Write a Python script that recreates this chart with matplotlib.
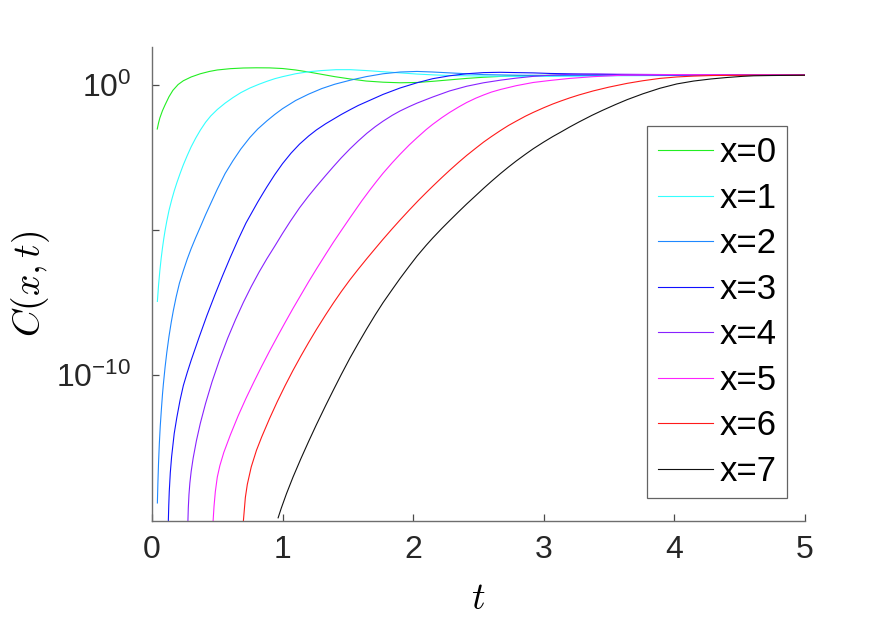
import numpy as np
import matplotlib
matplotlib.use("Agg")
import matplotlib.pyplot as plt
from matplotlib.ticker import FixedLocator, FixedFormatter, NullFormatter

plt.rcParams["font.family"] = ["Liberation Sans", "DejaVu Sans"]
plt.rcParams["mathtext.fontset"] = "custom"
plt.rcParams["mathtext.rm"] = "Liberation Sans"
plt.rcParams["mathtext.it"] = "Liberation Sans:italic"

# time samples and log10 C(x,t), one pair per curve
t_x0 = [0.04, 0.05, 0.06, 0.08, 0.10, 0.13, 0.16, 0.20, 0.24, 0.30, 0.37, 0.44, 0.50,
        0.60, 0.70, 0.80, 0.90, 1.00, 1.10, 1.20, 1.30, 1.40, 1.52, 1.64, 1.77, 1.90,
        2.03, 2.15, 2.28, 2.41, 2.54, 2.72, 2.90, 3.20, 3.60, 4.00, 5.00]
logc_x0 = [-1.53, -1.32, -1.15, -0.90, -0.70, -0.42, -0.20, 0.00, 0.13, 0.26, 0.37, 0.45, 0.50,
           0.545, 0.568, 0.575, 0.572, 0.55, 0.50, 0.43, 0.35, 0.27, 0.19, 0.12, 0.08, 0.06,
           0.07, 0.11, 0.16, 0.21, 0.25, 0.29, 0.31, 0.32, 0.33, 0.33, 0.33]

t_x1 = [0.041, 0.05, 0.06, 0.07, 0.08, 0.09, 0.10, 0.113, 0.13, 0.151, 0.17, 0.19, 0.215,
        0.24, 0.27, 0.30, 0.335, 0.37, 0.41, 0.45, 0.50, 0.56, 0.62, 0.68, 0.75, 0.82,
        0.88, 0.94, 1.00, 1.10, 1.20, 1.30, 1.41, 1.52, 1.64, 1.77, 1.90, 2.03, 2.16,
        2.28, 2.54, 2.80, 3.05, 3.50, 4.00, 5.00]
logc_x1 = [-7.46, -6.90, -6.40, -5.98, -5.62, -5.30, -5.02, -4.70, -4.33, -3.96, -3.66, -3.38, -3.06,
           -2.76, -2.44, -2.14, -1.84, -1.57, -1.30, -1.08, -0.86, -0.64, -0.45, -0.28, -0.12, 0.01,
           0.11, 0.20, 0.27, 0.37, 0.44, 0.48, 0.51, 0.51, 0.48, 0.44, 0.40, 0.36, 0.33,
           0.31, 0.29, 0.28, 0.28, 0.30, 0.31, 0.33]

t_x2 = [0.041, 0.045, 0.05, 0.056, 0.063, 0.072, 0.08, 0.087, 0.10, 0.113, 0.13, 0.147,
        0.163, 0.185, 0.21, 0.24, 0.27, 0.30, 0.335, 0.37, 0.41, 0.457, 0.50, 0.56, 0.62,
        0.68, 0.75, 0.81, 0.88, 0.94, 1.00, 1.10, 1.20, 1.30, 1.40, 1.52, 1.64, 1.77,
        1.90, 2.03, 2.15, 2.28, 2.41, 2.54, 2.80, 3.05, 3.50, 4.00, 5.00]
logc_x2 = [-14.39, -13.70, -13.00, -12.35, -11.75, -11.15, -10.66, -10.30, -9.72, -9.22, -8.66, -8.18,
           -7.78, -7.30, -6.83, -6.40, -6.00, -5.64, -5.26, -4.90, -4.48, -4.02, -3.60, -3.06, -2.62,
           -2.22, -1.82, -1.53, -1.25, -1.03, -0.83, -0.55, -0.33, -0.14, 0.01, 0.15, 0.27, 0.37,
           0.43, 0.45, 0.43, 0.40, 0.37, 0.34, 0.32, 0.31, 0.31, 0.32, 0.33]

t_x3 = [0.125, 0.128, 0.132, 0.14, 0.15, 0.17, 0.19, 0.215, 0.24, 0.27, 0.30, 0.36, 0.42,
        0.48, 0.54, 0.60, 0.66, 0.72, 0.78, 0.81, 0.85, 0.88, 0.94, 1.00, 1.065, 1.13,
        1.20, 1.26, 1.33, 1.39, 1.45, 1.52, 1.58, 1.645, 1.71, 1.77, 1.90, 2.03, 2.15,
        2.28, 2.41, 2.54, 2.67, 2.79, 2.92, 3.05, 3.30, 3.60, 4.00, 5.00]
logc_x3 = [-15.0, -14.5, -14.0, -13.35, -12.8, -12.0, -11.45, -10.85, -10.35, -9.90, -9.48, -8.70, -7.95,
           -7.25, -6.58, -5.94, -5.33, -4.76, -4.28, -4.04, -3.74, -3.52, -3.10, -2.72, -2.36, -2.05,
           -1.77, -1.56, -1.35, -1.19, -1.03, -0.86, -0.72, -0.59, -0.46, -0.34, -0.12, 0.06, 0.20,
           0.30, 0.37, 0.41, 0.42, 0.41, 0.40, 0.38, 0.36, 0.34, 0.33, 0.33]

t_x4 = [0.275, 0.278, 0.283, 0.29, 0.30, 0.315, 0.34, 0.37, 0.41, 0.46, 0.52, 0.58, 0.64,
        0.70, 0.76, 0.82, 0.88, 0.94, 1.00, 1.06, 1.13, 1.198, 1.26, 1.33, 1.39, 1.45,
        1.517, 1.58, 1.645, 1.71, 1.77, 1.84, 1.90, 1.97, 2.03, 2.15, 2.28, 2.41, 2.54,
        2.67, 2.79, 2.92, 3.05, 3.20, 3.40, 3.70, 4.00, 4.50, 5.00]
logc_x4 = [-15.0, -14.55, -14.1, -13.7, -13.3, -12.85, -12.25, -11.65, -10.97, -10.22, -9.43, -8.72, -8.08,
           -7.49, -6.95, -6.45, -5.99, -5.56, -5.12, -4.70, -4.24, -3.84, -3.50, -3.13, -2.82, -2.52,
           -2.21, -1.94, -1.68, -1.45, -1.26, -1.06, -0.91, -0.76, -0.64, -0.43, -0.22, -0.06, 0.06,
           0.15, 0.22, 0.28, 0.32, 0.35, 0.36, 0.35, 0.34, 0.33, 0.33]

t_x5 = [0.468, 0.475, 0.485, 0.50, 0.52, 0.55, 0.60, 0.66, 0.72, 0.78, 0.84, 0.90, 0.96,
        1.02, 1.08, 1.14, 1.20, 1.26, 1.33, 1.39, 1.45, 1.517, 1.607, 1.67, 1.72, 1.77,
        1.84, 1.90, 1.97, 2.03, 2.10, 2.15, 2.22, 2.28, 2.35, 2.41, 2.48, 2.54, 2.60,
        2.67, 2.79, 2.92, 3.05, 3.20, 3.38, 3.60, 4.00, 4.50, 5.00]
logc_x5 = [-15.0, -14.5, -14.0, -13.5, -13.1, -12.65, -12.05, -11.39, -10.79, -10.23, -9.69, -9.17, -8.67,
           -8.18, -7.70, -7.24, -6.78, -6.34, -5.84, -5.42, -5.02, -4.58, -4.00, -3.62, -3.33, -3.05,
           -2.69, -2.40, -2.08, -1.83, -1.55, -1.37, -1.14, -0.96, -0.77, -0.62, -0.47, -0.36, -0.26,
           -0.17, -0.04, 0.07, 0.14, 0.21, 0.27, 0.32, 0.34, 0.33, 0.33]

t_x6 = [0.70, 0.715, 0.73, 0.76, 0.80, 0.84, 0.90, 0.96, 1.02, 1.08, 1.14, 1.20, 1.26,
        1.33, 1.39, 1.45, 1.517, 1.58, 1.645, 1.71, 1.77, 1.84, 1.90, 1.97, 2.04, 2.10,
        2.15, 2.22, 2.28, 2.35, 2.41, 2.48, 2.54, 2.60, 2.67, 2.73, 2.79, 2.86, 2.92,
        3.00, 3.07, 3.13, 3.20, 3.27, 3.38, 3.50, 3.64, 3.76, 3.89, 4.02, 4.15, 4.30,
        4.60, 5.00]
logc_x6 = [-15.0, -14.2, -13.75, -13.15, -12.58, -12.12, -11.49, -10.90, -10.35, -9.83, -9.34, -8.87, -8.42,
           -7.92, -7.51, -7.12, -6.71, -6.35, -5.99, -5.64, -5.32, -4.96, -4.66, -4.32, -3.99, -3.72,
           -3.50, -3.20, -2.95, -2.67, -2.44, -2.19, -1.98, -1.79, -1.58, -1.41, -1.26, -1.09, -0.96,
           -0.80, -0.67, -0.57, -0.46, -0.36, -0.22, -0.09, 0.04, 0.13, 0.21, 0.26, 0.29, 0.31,
           0.32, 0.32]

t_x7 = [0.966, 0.99, 1.03, 1.08, 1.14, 1.20, 1.26, 1.33, 1.39, 1.45, 1.517, 1.58, 1.645,
        1.71, 1.77, 1.84, 1.90, 1.97, 2.03, 2.10, 2.15, 2.22, 2.28, 2.35, 2.41, 2.48,
        2.54, 2.60, 2.67, 2.73, 2.79, 2.86, 2.92, 3.00, 3.07, 3.13, 3.20, 3.27, 3.37,
        3.45, 3.55, 3.64, 3.76, 3.89, 4.02, 4.15, 4.28, 4.40, 4.52, 4.61, 4.75, 5.00]
logc_x7 = [-14.9, -14.57, -14.07, -13.50, -12.87, -12.27, -11.69, -11.04, -10.50, -9.97, -9.40, -8.90, -8.40,
           -7.92, -7.50, -7.05, -6.67, -6.25, -5.90, -5.53, -5.28, -4.95, -4.68, -4.37, -4.11, -3.82,
           -3.57, -3.33, -3.06, -2.84, -2.63, -2.40, -2.21, -1.98, -1.79, -1.64, -1.46, -1.29, -1.06,
           -0.89, -0.69, -0.52, -0.32, -0.13, 0.02, 0.12, 0.19, 0.24, 0.28, 0.30, 0.31, 0.32]

labels = ["x=0", "x=1", "x=2", "x=3", "x=4", "x=5", "x=6", "x=7"]
colors = ["#22ee22", "#33ffff", "#1e88ff", "#1010ff", "#8822ff", "#ff22ff", "#ff1a1a", "#111111"]

curves = [(t_x0, logc_x0), (t_x1, logc_x1), (t_x2, logc_x2), (t_x3, logc_x3),
          (t_x4, logc_x4), (t_x5, logc_x5), (t_x6, logc_x6), (t_x7, logc_x7)]

fig = plt.figure(figsize=(8.88, 6.27), dpi=100)
ax = fig.add_axes([0.1712, 0.1695, 0.735, 0.756])

for (t, lc), lab, col in zip(curves, labels, colors):
    ax.plot(t, 10.0 ** np.array(lc), color=col, lw=0.8, label=lab)

ax.set_yscale("log")
ax.set_xlim(0, 5)
ax.set_ylim(1e-15, 10 ** 1.3)

ax.yaxis.set_major_locator(FixedLocator([1e-10, 1e0]))
ax.yaxis.set_major_formatter(FixedFormatter(["$10^{-10}$", "$10^{0}$"]))
ax.yaxis.set_minor_locator(FixedLocator([1e-5]))
ax.yaxis.set_minor_formatter(NullFormatter())
ax.set_xticks([0, 1, 2, 3, 4, 5])

for side in ("top", "right"):
    ax.spines[side].set_visible(False)
for side in ("left", "bottom"):
    ax.spines[side].set_color("#6e6e6e")
    ax.spines[side].set_linewidth(1.0)

ax.tick_params(which="both", direction="in", length=4.8, width=0.9, color="#4a4a4a",
               labelsize=23, labelcolor="#262626")
ax.tick_params(axis="x", pad=10)
ax.tick_params(axis="y", pad=15)

ax.set_xlabel("$t$", fontsize=27, math_fontfamily="cm", labelpad=12)
ax.set_ylabel("$C(x,t)$", fontsize=27, math_fontfamily="cm", labelpad=3)

leg = ax.legend(loc="upper right", bbox_to_anchor=(0.9727, 0.8327), fontsize=25,
                frameon=True, fancybox=False, handlelength=1.6, handletextpad=0.18,
                labelspacing=0.36, borderpad=0.3, borderaxespad=0.0)
leg.get_frame().set_edgecolor("#3c3c3c")
leg.get_frame().set_linewidth(0.9)

fig.savefig("out.png", dpi=100)
